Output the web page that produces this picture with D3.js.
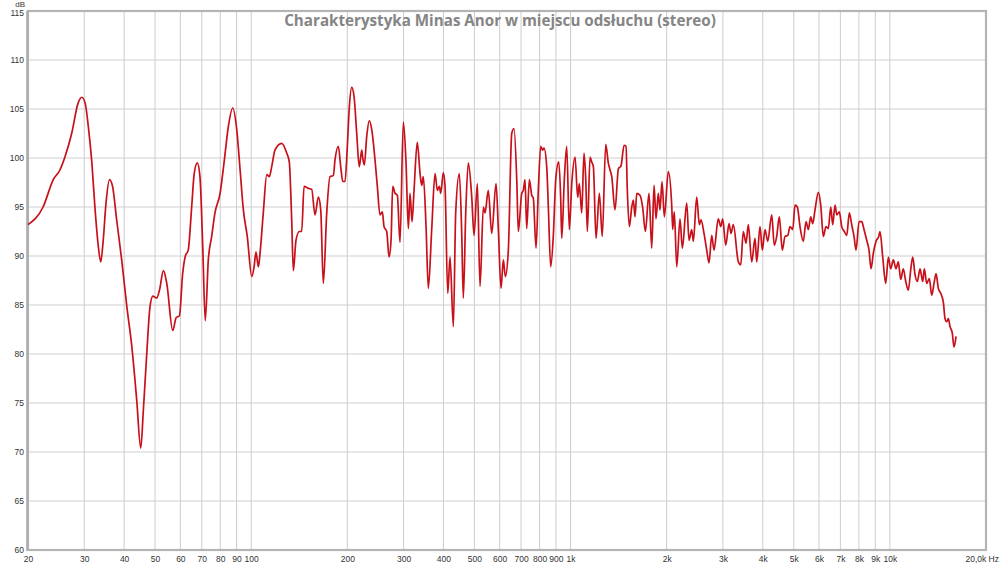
<!DOCTYPE html>
<html><head><meta charset="utf-8">
<script src="https://cdn.jsdelivr.net/npm/d3@7"></script>
<style>body{margin:0;background:#fff}svg{display:block}</style>
</head><body>
<svg id="chart" width="1000" height="566"></svg>
<script>
const chartTitle = "Charakterystyka Minas Anor w miejscu odsłuchu (stereo)";
const yUnitLabel = "dB";
const xEndLabel = "20,0k Hz";

const freqHz = [
20,22.3,24.0,25.2,26.1,27.4,28.7,29.5,30.2,30.9,31.7,32.4,33.2,33.8,34.4,35.1,36.0,36.8,37.9,39.3,
40.8,42.3,43.8,45.1,45.9,47.1,48.2,49.2,50.6,51.6,53.1,54.4,56.8,58.2,59.6,61.0,62.2,63.5,65.1,66.3,
67.8,69.1,70.5,71.8,73.4,75.2,77.0,79.9,82.2,84.8,87.5,90.1,92.3,94.5,97.2,100.4,102.1,103.5,105.3,106.6,
109.1,111.9,114.0,115.9,118.7,124.6,129.2,131.6,133.9,135.5,138.1,141.5,143.9,146.4,151.0,154.7,158.4,162.3,165.1,168.2,
172.4,176.5,180.8,183.0,187.4,190.7,193.5,196.7,200,202.9,206.4,209.9,214.0,218.0,221.9,223.5,226.1,230.0,234.4,238.5,
244.2,248.3,253.1,257.4,260.6,265.7,270.2,274.1,277.4,282.1,286.8,292.4,299.5,305.4,310.5,314.3,318.9,323.5,331.2,337.9,
342.0,345.9,352.8,358.6,367.5,376.4,382.7,388.3,392.2,399.6,404.6,412.5,419.4,429.5,436.9,448.5,456.3,461.6,469.7,478.5,
490.5,498.6,510.7,520.7,533.3,539.8,552.7,566.5,584.4,594.2,605.7,616.0,624.9,638.6,654.4,665.3,678.5,686.3,703.4,711.5,
720.2,729.1,743.0,755.9,764.6,779.8,792.6,806.6,818.4,826.0,842.2,852.1,866.8,883.3,898.8,918.3,931.8,938.6,956.1,973.0,
991.3,1009,1033,1053,1065,1084,1102,1116,1129,1151,1165,1179,1202,1231,1257,1289,1313,1329,1346,1378,
1412,1439,1471,1492,1506,1528,1555,1573,1592,1612,1650,1683,1715,1761,1796,1826,1852,1883,1906,1934,
1967,2024,2074,2089,2113,2151,2202,2239,2311,2350,2396,2424,2484,2531,2562,2618,2670,2715,2767,2814,
2902,2954,2996,3062,3136,3181,3234,3353,3412,3475,3545,3603,3693,3782,3829,3921,3986,4065,4145,4266,
4346,4422,4506,4604,4696,4787,4868,4964,5046,5131,5231,5358,5463,5554,5652,5733,5829,5970,6074,6189,
6309,6416,6528,6622,6734,6817,6945,7067,7200,7326,7466,7594,7722,7835,8005,8164,8299,8463,8605,8728,
8876,9050,9228,9315,9497,9706,9889,10061,10252,10453,10628,10814,11017,11212,11423,11623,11792,11988,12189,12430,
12672,12821,13044,13289,13524,13748,13949,14183,14427,14703,14884,15065,15241,15431,15689,15879,16114
];
const splDb = [
93.2,95.0,97.8,98.8,100.1,102.5,105.6,106.2,105.6,103.2,99.5,95.0,91.0,89.4,91.6,95.4,97.8,97.1,93.7,89.6,
84.8,80.7,75.3,70.4,74.0,80.1,84.8,85.9,85.7,86.5,88.5,87.2,82.4,83.7,83.9,88.2,90.0,90.6,95.0,98.4,
99.5,98.1,91.0,83.4,89.6,92.0,94.4,96.4,99.5,103.2,105.1,102.9,98.8,94.7,92.0,87.9,88.9,90.4,88.9,90.3,
94.4,98.3,98.1,99.1,100.8,101.5,100.5,99.6,93.7,88.5,91.6,92.5,92.5,97.1,96.9,96.8,94.2,96.0,94.7,87.2,
94.4,98.1,98.2,99.8,101.2,99.1,97.6,97.6,101.2,105.2,107.2,106.3,102.5,99.1,100.8,100.0,99.3,102.2,103.8,102.9,
99.8,97.1,94.2,94.5,93.0,92.5,89.9,91.6,97.1,96.4,96.2,91.4,103.7,99.5,92.8,96.4,93.5,96.7,101.6,98.4,
97.2,98.1,93.0,86.7,92.7,98.4,96.7,97.1,96.4,98.5,97.1,86.2,89.9,82.8,94.4,98.4,92.3,85.7,94.4,99.5,
96.0,92.1,97.4,86.9,95.0,94.4,96.7,92.3,97.4,92.7,86.7,89.6,87.9,90.6,102.5,103.0,97.8,92.5,96.4,96.7,
97.8,92.8,97.8,96.2,95.9,90.8,96.7,101.2,100.8,101.0,99.1,95.0,88.9,92.1,97.8,99.6,95.7,91.8,97.8,101.2,
92.7,97.4,100.1,96.0,97.4,94.4,100.5,97.8,92.5,100.1,99.6,99.1,91.8,96.4,92.0,101.4,99.5,98.8,98.1,94.7,
98.9,99.2,101.3,101.2,96.7,93.0,95.0,95.7,94.0,96.4,96.2,94.9,92.5,96.4,90.8,97.2,93.8,96.4,94.7,97.6,
94.0,98.6,95.2,92.7,94.5,88.9,93.8,90.8,95.4,91.6,92.7,91.5,96.0,93.2,93.7,92.3,90.6,89.3,92.1,90.6,
93.8,93.0,93.8,91.1,93.3,92.3,93.2,89.4,89.1,92.5,91.3,93.2,89.4,91.8,89.4,93.0,90.6,92.7,91.5,94.2,
91.1,92.0,94.0,90.6,92.0,92.1,93.0,92.7,95.2,95.0,93.0,91.5,93.5,92.7,94.0,93.3,94.7,96.5,95.2,92.0,
93.0,92.8,95.0,93.2,95.2,94.2,94.5,93.0,92.5,92.1,94.4,93.2,92.0,90.6,93.5,93.5,92.7,91.6,90.6,88.7,
90.3,91.5,92.0,92.5,89.9,87.2,89.9,88.7,89.6,88.7,89.4,87.6,88.7,87.4,86.5,88.6,89.9,88.1,87.4,88.7,
87.4,88.7,87.2,87.7,86.0,87.2,88.2,86.7,86.2,85.3,83.6,83.3,83.6,82.8,82.1,80.7,81.8
];

const yTickValues = [60,65,70,75,80,85,90,95,100,105,110,115];
const xTickValues = [20,30,40,50,60,70,80,90,100,200,300,400,500,600,700,800,900,1000,2000,3000,4000,5000,6000,7000,8000,9000,10000];
const xTickLabels = ["20","30","40","50","60","70","80","90","100","200","300","400","500","600","700","800","900","1k","2k","3k","4k","5k","6k","7k","8k","9k","10k"];

const svg = d3.select("#chart");
const L = 28, R = 986, T = 11, B = 550;
const x = d3.scaleLog().domain([20, 20000]).range([L, R]);
const y = d3.scaleLinear().domain([60, 115]).range([B, T]);

// gridlines
const grid = svg.append("g");
grid.selectAll("line.v").data(xTickValues.filter(v => v > 20)).enter().append("line")
  .attr("x1", d => x(d)).attr("x2", d => x(d)).attr("y1", T).attr("y2", B)
  .attr("stroke", "#cdcdcd").attr("stroke-width", 1);
grid.selectAll("line.h").data(yTickValues.filter(v => v > 60 && v < 115)).enter().append("line")
  .attr("x1", L).attr("x2", R).attr("y1", d => y(d)).attr("y2", d => y(d))
  .attr("stroke", "#d0d0d0").attr("stroke-width", 1.2);

// title, fitted to the reference width
const titleEl = svg.append("text").attr("x", 500).attr("y", 26).attr("text-anchor", "middle")
  .attr("font-family", "'Open Sans', Lato, sans-serif").attr("font-weight", "bold")
  .attr("font-size", 15).attr("fill", "#858585").text(chartTitle);
const tw = titleEl.node().getComputedTextLength();
titleEl.attr("font-size", 15 * 432 / tw);

// frame
svg.append("rect").attr("x", L).attr("y", T).attr("width", R - L).attr("height", B - T)
  .attr("fill", "none").attr("stroke", "#b4b4b4").attr("stroke-width", 2.2);
svg.append("line").attr("x1", L - 1).attr("x2", L - 1).attr("y1", T).attr("y2", B + 1)
  .attr("stroke", "#a8a8a8").attr("stroke-width", 1.5);

// axes labels
const lblFont = "'Liberation Sans', Arial, sans-serif";
const yAxis = d3.axisLeft(y).tickValues(yTickValues).tickSize(0).tickPadding(4).tickFormat(d3.format("d"));
const gy = svg.append("g").attr("transform", `translate(${L},0)`).call(yAxis);
gy.select(".domain").remove();
gy.selectAll("text").attr("font-family", lblFont).attr("font-size", 8.5).attr("fill", "#333");
gy.selectAll(".tick").filter(d => d === 115).select("text").attr("dy", "0.55em");

const xAxis = d3.axisBottom(x).tickValues(xTickValues).tickSize(0).tickPadding(6)
  .tickFormat((d, i) => xTickLabels[i]);
const gx = svg.append("g").attr("transform", `translate(0,${B})`).call(xAxis);
gx.select(".domain").remove();
gx.selectAll("text").attr("font-family", lblFont).attr("font-size", 8.5).attr("fill", "#333");

svg.append("text").attr("x", 999).attr("y", 562).attr("text-anchor", "end")
  .attr("font-family", lblFont).attr("font-size", 8.5).attr("fill", "#333").text(xEndLabel);
svg.append("text").attr("x", 25).attr("y", 7).attr("text-anchor", "end")
  .attr("font-family", lblFont).attr("font-size", 8).attr("fill", "#333").text(yUnitLabel);

// curve
const pts = freqHz.map((f, i) => [f, splDb[i]]);
const line = d3.line().x(d => x(d[0])).y(d => y(d[1])).curve(d3.curveMonotoneX);
svg.append("path").datum(pts).attr("d", line).attr("fill", "none")
  .attr("stroke", "#c8101a").attr("stroke-width", 1.7).attr("stroke-linejoin", "round");
</script>
</body></html>
